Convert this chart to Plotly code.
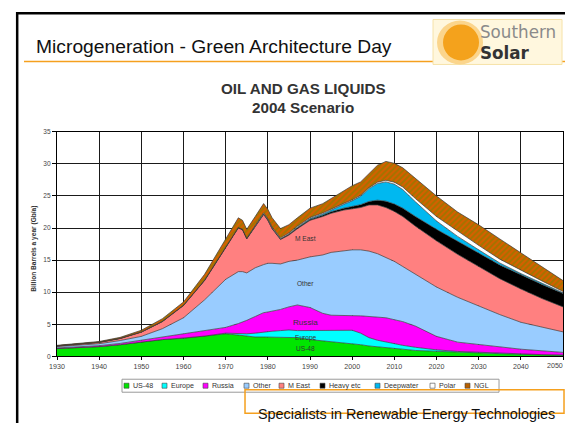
import plotly.graph_objects as go

# ---------------- data (Gb per year) ----------------
years = [1930, 1935, 1940, 1945, 1950, 1955, 1960, 1965, 1970, 1973, 1974, 1975,
         1977, 1979, 1980, 1981, 1983, 1985, 1987, 1990, 1993, 1995, 1998, 2000,
         2002, 2004, 2006, 2008, 2010, 2012, 2015, 2020, 2025, 2030, 2035, 2040,
         2045, 2050]

us48 = [1.2, 1.3, 1.5, 1.8, 2.2, 2.6, 2.8, 3.1, 3.5, 3.3, 3.2, 3.1,
        3.0, 3.0, 3.0, 3.0, 3.0, 3.0, 2.9, 2.6, 2.4, 2.3, 2.1, 2.0,
        1.8, 1.6, 1.5, 1.4, 1.2, 1.1, 0.9, 0.75, 0.6, 0.5, 0.4, 0.3,
        0.2, 0.15]
europe = [0, 0, 0, 0, 0, 0, 0.05, 0.05, 0.1, 0.2, 0.3, 0.4,
          0.6, 0.8, 0.85, 0.9, 1.0, 1.1, 1.1, 1.4, 1.6, 1.7, 2.0, 2.05,
          1.8, 1.3, 1.0, 0.8, 0.7, 0.6, 0.5, 0.25, 0.15, 0.1, 0.05, 0.05,
          0.05, 0.05]
russia = [0.1, 0.15, 0.15, 0.2, 0.25, 0.4, 0.65, 0.85, 0.9, 1.6, 1.8, 2.1,
          2.6, 3.0, 3.05, 3.1, 3.3, 3.6, 4.0, 3.6, 2.7, 2.4, 2.3, 2.35,
          2.7, 3.3, 3.6, 3.8, 3.8, 3.7, 3.3, 2.1, 1.45, 1.2, 0.95, 0.75,
          0.6, 0.4]
other = [0.2, 0.25, 0.3, 0.45, 0.65, 1.3, 2.5, 4.8, 7.5, 8.1, 7.9, 7.4,
         7.6, 7.5, 7.6, 7.5, 7.1, 7.1, 7.0, 7.9, 9.1, 9.8, 10.1, 10.2,
         10.3, 10.2, 9.9, 9.4, 9.1, 8.6, 8.1, 7.7, 7.0, 6.0, 5.1, 4.2,
         3.65, 3.2]
m_east = [0.1, 0.15, 0.2, 0.3, 0.65, 1.1, 1.9, 3.0, 5.0, 6.8, 6.5, 5.3,
          6.4, 7.8, 6.7, 5.4, 3.8, 4.1, 4.9, 5.7, 6.0, 6.1, 6.3, 6.4,
          6.6, 7.2, 7.6, 7.8, 7.8, 7.8, 7.5, 7.2, 6.7, 6.2, 5.6, 5.2,
          4.5, 3.9]
heavy = [0.03, 0.03, 0.04, 0.05, 0.05, 0.06, 0.07, 0.08, 0.1, 0.1, 0.1, 0.1,
         0.1, 0.12, 0.12, 0.12, 0.12, 0.13, 0.14, 0.15, 0.2, 0.25, 0.3, 0.35,
         0.45, 0.55, 0.75, 1.0, 1.15, 1.3, 1.5, 1.8, 2.0, 2.1, 2.15, 2.2,
         2.2, 2.1]
deepwater = [0, 0, 0, 0, 0, 0, 0, 0, 0, 0, 0, 0,
             0, 0, 0, 0, 0, 0.05, 0.1, 0.15, 0.2, 0.3, 0.6, 0.9,
             1.3, 2.0, 2.6, 3.0, 3.1, 2.9, 2.3, 1.3, 0.8, 0.5, 0.3, 0.2,
             0.15, 0.1]
polar = [0, 0, 0, 0, 0, 0, 0, 0, 0, 0, 0, 0,
         0.1, 0.15, 0.15, 0.15, 0.15, 0.15, 0.15, 0.15, 0.15, 0.15, 0.15, 0.15,
         0.15, 0.15, 0.2, 0.25, 0.3, 0.4, 0.5, 0.7, 0.8, 0.7, 0.6, 0.5,
         0.4, 0.2]
ngl = [0.07, 0.12, 0.11, 0.15, 0.25, 0.4, 0.5, 0.9, 1.3, 1.5, 1.4, 1.4,
       1.4, 1.45, 1.45, 1.45, 1.45, 1.3, 1.3, 1.45, 1.45, 1.6, 2.05, 2.2,
       2.1, 2.2, 2.65, 2.95, 2.95, 3.0, 3.1, 3.2, 3.0, 3.2, 3.15, 2.7,
       2.15, 1.7]

series_names = ["US-48", "Europe", "Russia", "Other", "M East", "Heavy etc",
                "Deepwater", "Polar", "NGL"]
series_values = [us48, europe, russia, other, m_east, heavy, deepwater, polar, ngl]
series_colors = ["#00E600", "#00FFFF", "#FF00FF", "#99CCFF", "#FF8080",
                 "#000000", "#00B8F0", "#FFFFFF", "#B86000"]

# in-chart labels: (text, year, value)
inner_labels = [("US-48", 1989, 1.25), ("Europe", 1989, 2.8), ("Russia", 1989, 5.3),
                ("Other", 1989, 11.4), ("M East", 1989, 18.4)]

x_ticks = list(range(1930, 2051, 10))
y_ticks = list(range(0, 36, 5))

# Figure size and the mapping from window pixels to figure pixels,
# measured from how this page is placed in the screenshot.
W, H = 557, 418
SX, BX = 0.9856, 16.0
SY, BY = 0.984, 11.5
def PX(x):
    return ((x - BX) / SX) / W
def PY(y):
    return 1 - ((y - BY) / SY) / H
FS = 1 / SX  # font compensation

FONT = "Liberation Sans, Arial, sans-serif"
ORANGE = "#F5A01E"

fig = go.Figure()
for name, vals, col in zip(series_names, series_values, series_colors):
    kw = {}
    if name == "NGL":
        kw["fillpattern"] = dict(shape="/", bgcolor="#D85E00", fgcolor="#6A8A00",
                                 size=4, solidity=0.5)
    fig.add_trace(go.Scatter(
        x=years, y=vals, name=name, stackgroup="one", mode="lines",
        line=dict(width=0.7, color="#3a3a3a"), fillcolor=col,
        showlegend=False, hoverinfo="skip", **kw))

shapes = []
annotations = []

# slide frame (at the figure's left and top edges)
shapes.append(dict(type="line", xref="paper", yref="paper", x0=1.2 / W, x1=1.2 / W,
                   y0=0, y1=1, line=dict(color="#000", width=2.5)))
shapes.append(dict(type="line", xref="paper", yref="paper", x0=0, x1=1,
                   y0=1 - 1.2 / H, y1=1 - 1.2 / H, line=dict(color="#000", width=2.5)))
# orange header rule
shapes.append(dict(type="line", xref="paper", yref="paper", x0=PX(24), x1=PX(566),
                   y0=PY(61), y1=PY(61), line=dict(color=ORANGE, width=1.5)))

# logo
shapes.append(dict(type="rect", xref="paper", yref="paper", x0=PX(433), x1=PX(562),
                   y0=PY(64), y1=PY(19), fillcolor="#FFF7DE",
                   line=dict(color="#F6E2A8", width=1)))
shapes.append(dict(type="circle", xref="paper", yref="paper", x0=PX(437), x1=PX(483),
                   y0=PY(64), y1=PY(20), fillcolor="#FBD58C", line=dict(width=0)))
shapes.append(dict(type="circle", xref="paper", yref="paper", x0=PX(443), x1=PX(479),
                   y0=PY(60), y1=PY(24), fillcolor="#F4A21C", line=dict(width=0)))
annotations.append(dict(text="Southern", xref="paper", yref="paper", x=PX(478), y=PY(32),
                        xanchor="left", yanchor="middle", showarrow=False,
                        font=dict(family="DejaVu Sans", size=16.5 * FS, color="#8a8a8a")))
annotations.append(dict(text="<b>Solar</b>", xref="paper", yref="paper", x=PX(478), y=PY(53),
                        xanchor="left", yanchor="middle", showarrow=False,
                        font=dict(family="DejaVu Sans", size=16.5 * FS, color="#333")))

# header title
annotations.append(dict(text="Microgeneration - Green Architecture Day", xref="paper",
                        yref="paper", x=PX(34), y=PY(46), xanchor="left", yanchor="middle",
                        showarrow=False, font=dict(family=FONT, size=19 * FS, color="#111")))

# chart title
annotations.append(dict(text="<b>OIL AND GAS LIQUIDS</b>", xref="paper", yref="paper",
                        x=PX(303), y=PY(88), xanchor="center", yanchor="middle",
                        showarrow=False, font=dict(family=FONT, size=15 * FS, color="#333")))
annotations.append(dict(text="<b>2004 Scenario</b>", xref="paper", yref="paper",
                        x=PX(303), y=PY(107), xanchor="center", yanchor="middle",
                        showarrow=False, font=dict(family=FONT, size=15 * FS, color="#333")))

# y axis title
annotations.append(dict(text="<b>Billion Barrels a year (Gb/a)</b>", xref="paper",
                        yref="paper", x=PX(34.5), y=PY(249), xanchor="center",
                        yanchor="middle", textangle=-90, showarrow=False,
                        font=dict(family=FONT, size=6.5 * FS, color="#333")))

# last x tick label, kept inside the figure's right edge
annotations.append(dict(text=str(x_ticks[-1]), xref="paper", yref="paper", x=1,
                        y=PY(366), xanchor="right", yanchor="middle", showarrow=False,
                        font=dict(family=FONT, size=7 * FS, color="#444")))

# inner labels
for txt, yr, v in inner_labels:
    annotations.append(dict(text=txt, x=yr, y=v, xref="x", yref="y", showarrow=False,
                            xanchor="center", yanchor="middle",
                            font=dict(family=FONT, size=(8 if txt == "Russia" else 6.5) * FS,
                                      color="#333")))

# manual legend
shapes.append(dict(type="rect", xref="paper", yref="paper", x0=PX(122), x1=PX(499),
                   y0=PY(392), y1=PY(379), fillcolor="#FFFFFF",
                   line=dict(color="#9a9a9a", width=1)))
legend_x = [124, 162, 203, 244, 279, 320, 375, 430, 465]
for name, col, lx in zip(series_names, series_colors, legend_x):
    shapes.append(dict(type="rect", xref="paper", yref="paper", x0=PX(lx), x1=PX(lx + 5),
                       y0=PY(388), y1=PY(383), fillcolor=col,
                       line=dict(color="#444", width=0.6)))
    annotations.append(dict(text=name, xref="paper", yref="paper", x=PX(lx + 6.5),
                            y=PY(385.5), xanchor="left", yanchor="middle", showarrow=False,
                            font=dict(family=FONT, size=7 * FS, color="#333")))

# footer box + text
shapes.append(dict(type="rect", xref="paper", yref="paper", x0=PX(245), x1=1 - 1 / W,
                   y0=PY(413), y1=PY(389.5), line=dict(color=ORANGE, width=1.5)))
annotations.append(dict(text="Specialists in Renewable Energy Technologies", xref="paper",
                        yref="paper", x=PX(256), y=PY(413.5), xanchor="left",
                        yanchor="middle", showarrow=False,
                        font=dict(family=FONT, size=14.2 * FS, color="#111")))

fig.update_layout(
    width=W, height=H, margin=dict(l=0, r=0, t=0, b=0, pad=0),
    paper_bgcolor="white", plot_bgcolor="white", showlegend=False,
    shapes=shapes, annotations=annotations,
    xaxis=dict(domain=[PX(57), PX(563)], range=[1930, 2050], tickmode="array",
               tickvals=x_ticks, ticktext=[str(t) for t in x_ticks[:-1]] + [""],
               showgrid=True, gridcolor="#1a1a1a", gridwidth=1,
               showline=True, linecolor="#000", linewidth=1, mirror=True,
               ticks="outside", ticklen=3, tickcolor="#000",
               tickfont=dict(family=FONT, size=7 * FS, color="#444"), zeroline=False),
    yaxis=dict(domain=[PY(356), PY(131.5)], range=[0, 35], tickmode="array",
               tickvals=y_ticks, ticktext=[str(t) for t in y_ticks],
               showgrid=True, gridcolor="#1a1a1a", gridwidth=1,
               showline=True, linecolor="#000", linewidth=1, mirror=True,
               ticks="outside", ticklen=4, tickcolor="#000",
               tickfont=dict(family=FONT, size=6.5 * FS, color="#444"), zeroline=False),
)

fig.write_html("out.html", config={"displayModeBar": False})
